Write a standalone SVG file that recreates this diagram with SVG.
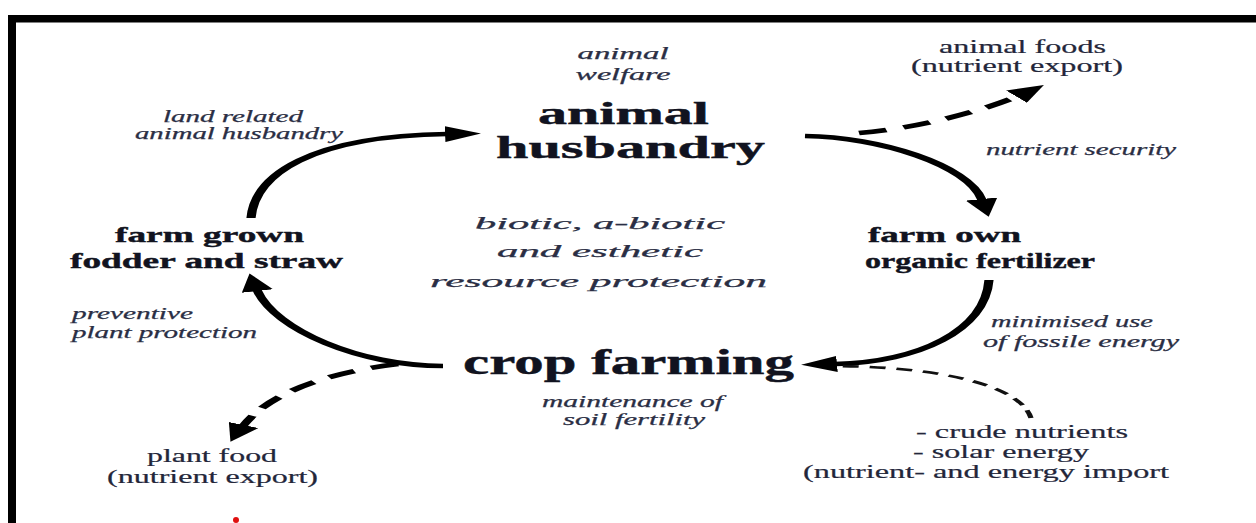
<svg xmlns="http://www.w3.org/2000/svg" width="1256" height="523" viewBox="0 0 1256 523" font-family="'Liberation Serif', Tinos, 'Times New Roman', Times, serif">
  <style>
    text { fill: #1d1f2c; }
    .note { font-style: italic; font-size: 16px; fill: #2a2e44; stroke: #2a2e44; stroke-width: 0.25; }
    .title { font-weight: bold; fill: #111320; stroke: #111320; stroke-width: 0.4; }
    .plain { font-size: 18px; fill: #23263a; stroke: #23263a; stroke-width: 0.2; }
    .flow { fill: none; stroke: #000; stroke-width: 4.6; }
    .export { fill: none; stroke: #000; stroke-width: 4.6; stroke-dasharray: 14 9; }
    .import { fill: none; stroke: #111; stroke-width: 2.6; stroke-dasharray: 8 5.5; }
  </style>
  <defs>
    <marker id="head" markerUnits="userSpaceOnUse" markerWidth="18" markerHeight="16" refX="1" refY="8" orient="auto" viewBox="0 0 18 16">
      <path d="M0,0 L18,8 L0,16 z" fill="#000"/>
    </marker>
  </defs>

  <!-- frame -->
  <rect x="8" y="15" width="1248" height="7.5" fill="#000"/>
  <rect x="8" y="15" width="8" height="508" fill="#000"/>

  <!-- connectors, drawn in a half-width space and stretched horizontally -->
  <g id="connectors" transform="scale(2,1)">
    <path class="flow" d="M125.5,218 C127.5,175 155,136 223.5,134" marker-end="url(#head)"/>
    <path class="flow" d="M402.5,136 C440,137 484,165 491,200" marker-end="url(#head)"/>
    <path class="flow" d="M494.5,280 C492.5,330 460,362 417.5,364" marker-end="url(#head)"/>
    <path class="flow" d="M221.5,366 C180,366 137.5,330 128.5,290" marker-end="url(#head)"/>
    <path class="export" d="M429.5,133 C460,128 492.5,110 509,96" marker-end="url(#head)"/>
    <path class="export" d="M199,364 C165,372 135,392 121.5,426" marker-end="url(#head)"/>
    <path class="import" d="M515.5,418 C510,385 470,367 418,366"/>
  </g>

  <g id="welfare">
    <text class="note" x="623" y="59" text-anchor="middle" textLength="91" lengthAdjust="spacingAndGlyphs">animal</text>
    <text class="note" x="623" y="80" text-anchor="middle" textLength="95" lengthAdjust="spacingAndGlyphs">welfare</text>
  </g>

  <g id="animal-husbandry">
    <text class="title" x="623.5" y="124" font-size="31" text-anchor="middle" textLength="171" lengthAdjust="spacingAndGlyphs">animal</text>
    <text class="title" x="630.5" y="158" font-size="31" text-anchor="middle" textLength="269" lengthAdjust="spacingAndGlyphs">husbandry</text>
  </g>

  <g id="land-related">
    <text class="note" x="233" y="122" text-anchor="middle" textLength="140" lengthAdjust="spacingAndGlyphs">land related</text>
    <text class="note" x="239" y="139" text-anchor="middle" textLength="208" lengthAdjust="spacingAndGlyphs">animal husbandry</text>
  </g>

  <g id="animal-foods">
    <text class="plain" x="1022.5" y="53" font-size="19" text-anchor="middle" textLength="167" lengthAdjust="spacingAndGlyphs">animal foods</text>
    <text class="plain" x="1017" y="72" font-size="19" text-anchor="middle" textLength="212" lengthAdjust="spacingAndGlyphs">(nutrient export)</text>
  </g>

  <g id="nutrient-security">
    <text class="note" x="1081" y="155" text-anchor="middle" textLength="190" lengthAdjust="spacingAndGlyphs">nutrient security</text>
  </g>

  <g id="fodder">
    <text class="title" x="209.5" y="242" font-size="21" text-anchor="middle" textLength="189" lengthAdjust="spacingAndGlyphs">farm grown</text>
    <text class="title" x="206.5" y="268" font-size="21" text-anchor="middle" textLength="273" lengthAdjust="spacingAndGlyphs">fodder and straw</text>
  </g>

  <g id="plant-protection">
    <text class="note" x="72" y="319" textLength="121" lengthAdjust="spacingAndGlyphs">preventive</text>
    <text class="note" x="72" y="338" textLength="185" lengthAdjust="spacingAndGlyphs">plant protection</text>
  </g>

  <g id="resource-protection">
    <text class="note" x="600" y="229" font-size="25" text-anchor="middle" textLength="250" lengthAdjust="spacingAndGlyphs">biotic, a-biotic</text>
    <text class="note" x="600" y="257" font-size="25" text-anchor="middle" textLength="206" lengthAdjust="spacingAndGlyphs">and esthetic</text>
    <text class="note" x="598.5" y="287" font-size="25" text-anchor="middle" textLength="337" lengthAdjust="spacingAndGlyphs">resource protection</text>
  </g>

  <g id="crop-farming">
    <text class="title" x="628.5" y="374" font-size="35" text-anchor="middle" textLength="331" lengthAdjust="spacingAndGlyphs">crop farming</text>
  </g>

  <g id="fertilizer">
    <text class="title" x="868" y="242" font-size="21" textLength="153" lengthAdjust="spacingAndGlyphs">farm own</text>
    <text class="title" x="865" y="268" font-size="21" textLength="230" lengthAdjust="spacingAndGlyphs">organic fertilizer</text>
  </g>

  <g id="fossile-energy">
    <text class="note" x="1072" y="327" text-anchor="middle" textLength="162" lengthAdjust="spacingAndGlyphs">minimised use</text>
    <text class="note" x="1081" y="347" text-anchor="middle" textLength="196" lengthAdjust="spacingAndGlyphs">of  fossile energy</text>
  </g>

  <g id="soil-fertility">
    <text class="note" x="632.5" y="407" text-anchor="middle" textLength="181" lengthAdjust="spacingAndGlyphs">maintenance of</text>
    <text class="note" x="634" y="425" text-anchor="middle" textLength="142" lengthAdjust="spacingAndGlyphs">soil  fertility</text>
  </g>

  <g id="plant-food">
    <text class="plain" x="212" y="462" text-anchor="middle" textLength="130" lengthAdjust="spacingAndGlyphs">plant food</text>
    <text class="plain" x="212.5" y="483" text-anchor="middle" textLength="211" lengthAdjust="spacingAndGlyphs">(nutrient export)</text>
  </g>

  <g id="imports">
    <text class="plain" x="916" y="438" textLength="212" lengthAdjust="spacingAndGlyphs">- crude nutrients</text>
    <text class="plain" x="913" y="458" textLength="176" lengthAdjust="spacingAndGlyphs">- solar energy</text>
    <text class="plain" x="803" y="478" textLength="366" lengthAdjust="spacingAndGlyphs">(nutrient- and energy import</text>
  </g>

  <!-- small red mark at the lower edge -->
  <circle cx="236" cy="520" r="3" fill="#e01010"/>
</svg>
